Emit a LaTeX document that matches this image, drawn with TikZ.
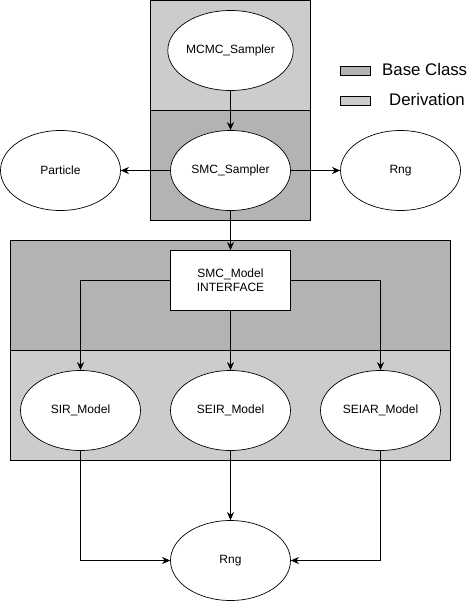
\documentclass[tikz,border=0pt]{standalone}
\usepackage{fontspec}
\setmainfont{Liberation Sans}
\usetikzlibrary{positioning, arrows.meta, shapes.geometric}
\definecolor{baseclass}{HTML}{B3B3B3}
\definecolor{derivation}{HTML}{CCCCCC}

\begin{document}
\begin{tikzpicture}[x=1pt,y=-1pt,
  font=\fontsize{12}{14}\selectfont,
  cls/.style={ellipse,draw,line width=0.7pt,fill=white,minimum width=120pt,minimum height=80pt,inner sep=0pt},
  iface/.style={rectangle,draw,line width=0.9pt,fill=white,minimum width=120pt,minimum height=60pt,align=center,inner sep=0pt},
  link/.style={line width=0.9pt,-{Stealth[length=8pt,width=7pt,inset=2.5pt]}},
  region/.style={draw,line width=0.9pt},
  keybox/.style={rectangle,draw,line width=0.8pt,minimum width=30pt,minimum height=9pt,inner sep=0pt},
  keytext/.style={font=\fontsize{16.8}{18}\selectfont,inner sep=0pt}]
\useasboundingbox (0,0) rectangle (471,601);
% class regions
\draw[region,fill=derivation] (150.5,0.5) rectangle (310.5,110.5);
\draw[region,fill=baseclass] (150.5,110.5) rectangle (310.5,220.5);
\draw[region,fill=baseclass] (10.5,240.5) rectangle (450.5,350.5);
\draw[region,fill=derivation] (10.5,350.5) rectangle (450.5,460.5);

% legend
\node[keybox,fill=baseclass] (keybase) at (355.5,70.5) {};
\node[keybox,fill=derivation] (keyderiv) at (355.5,100.5) {};
\node[keytext,anchor=west] (txtbase) at (382,69.5) {Base Class};
\node[keytext,anchor=west] (txtderiv) at (389,99.5) {Derivation};

% samplers
\node[cls] (mcmc) at (230.5,50.5) {MCMC\_Sampler};
\node[cls] (smc) at (230.5,170.5) {SMC\_Sampler};
\node[cls] (particle) at (60.5,170.5) {Particle};
\node[cls] (rngtop) at (400.5,170.5) {Rng};

% models
\node[iface] (model) at (230.5,280.5) {SMC\_Model\\INTERFACE};
\node[cls] (sir) at (80.5,410.5) {SIR\_Model};
\node[cls] (seir) at (230.5,410.5) {SEIR\_Model};
\node[cls] (seiar) at (380.5,410.5) {SEIAR\_Model};
\node[cls] (rng) at (230.5,560.5) {Rng};

\draw[link] (mcmc) -- (smc);
\draw[link] (smc) -- (particle);
\draw[link] (smc) -- (rngtop);
\draw[link] (smc) -- (model);
\draw[link] (model.west) -| (sir);
\draw[link] (model) -- (seir);
\draw[link] (model.east) -| (seiar);
\draw[link] (sir) |- (rng);
\draw[link] (seir) -- (rng);
\draw[link] (seiar) |- (rng);
\end{tikzpicture}
\end{document}
